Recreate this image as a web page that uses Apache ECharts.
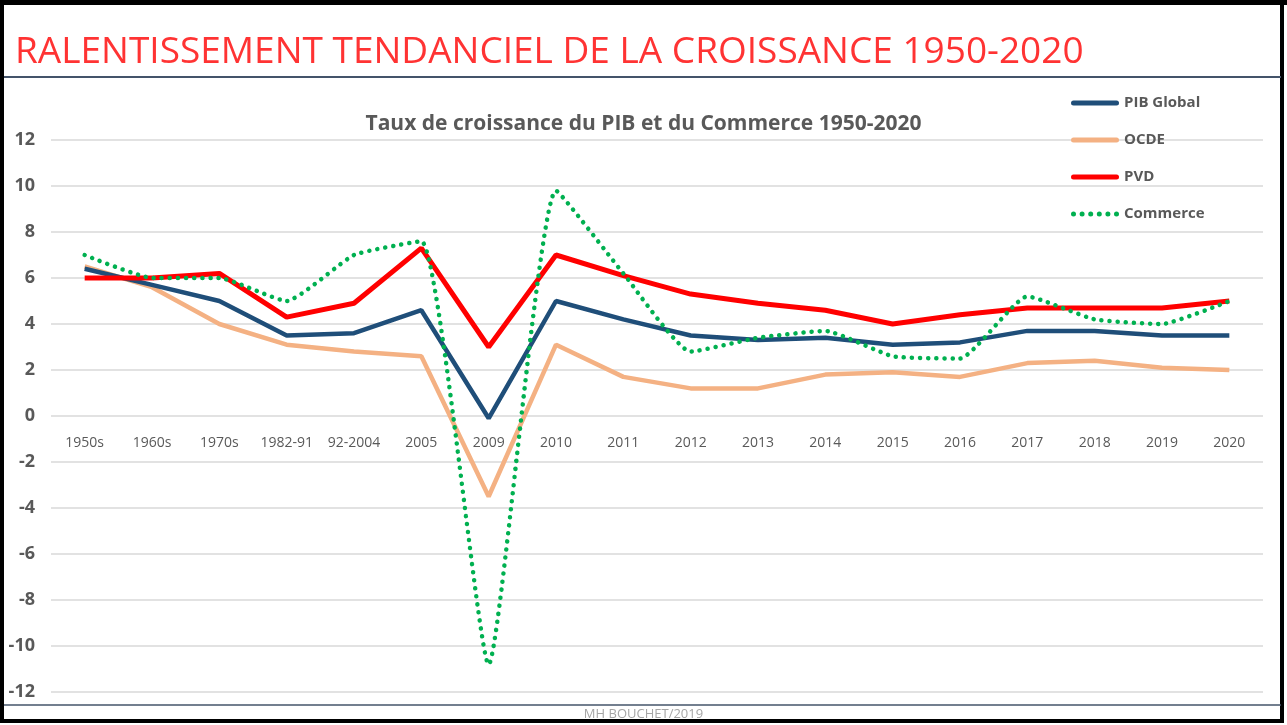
<!DOCTYPE html>
<html>
<head>
<meta charset="utf-8">
<script src="https://cdn.jsdelivr.net/npm/echarts@6/dist/echarts.min.js"></script>
<style>
  html, body { margin: 0; padding: 0; background: #fff; }
  #main { width: 1287px; height: 725px; }
</style>
</head>
<body>
<div id="main"></div>
<script>
var categories = ['1950s', '1960s', '1970s', '1982-91', '92-2004', '2005', '2009', '2010', '2011',
  '2012', '2013', '2014', '2015', '2016', '2017', '2018', '2019', '2020'];
var pibGlobal = [6.4, 5.7, 5.0, 3.5, 3.6, 4.6, -0.1, 5.0, 4.2, 3.5, 3.3, 3.4, 3.1, 3.2, 3.7, 3.7, 3.5, 3.5];
var ocde      = [6.5, 5.6, 4.0, 3.1, 2.8, 2.6, -3.5, 3.1, 1.7, 1.2, 1.2, 1.8, 1.9, 1.7, 2.3, 2.4, 2.1, 2.0];
var pvd       = [6.0, 6.0, 6.2, 4.3, 4.9, 7.3, 3.0, 7.0, 6.1, 5.3, 4.9, 4.6, 4.0, 4.4, 4.7, 4.7, 4.7, 5.0];
var commerce  = [7.0, 6.0, 6.0, 5.0, 7.0, 7.6, -10.8, 9.8, 6.2, 2.8, 3.4, 3.7, 2.6, 2.5, 5.2, 4.2, 4.0, 5.0];

var font = "'Open Sans', sans-serif";
// legend icons: solid bar, and a row of dots for the dotted series
var barIcon = 'path://M2.5,0 H45.5 A2.5,2.5 0 0 1 45.5,5 H2.5 A2.5,2.5 0 0 1 2.5,0 Z';
var dotIcon = 'path://M0,2.5 A2.5,2.5 0 1 1 5,2.5 A2.5,2.5 0 1 1 0,2.5 Z ' +
  'M8.6,2.5 A2.5,2.5 0 1 1 13.6,2.5 A2.5,2.5 0 1 1 8.6,2.5 Z ' +
  'M17.2,2.5 A2.5,2.5 0 1 1 22.2,2.5 A2.5,2.5 0 1 1 17.2,2.5 Z ' +
  'M25.8,2.5 A2.5,2.5 0 1 1 30.8,2.5 A2.5,2.5 0 1 1 25.8,2.5 Z ' +
  'M34.4,2.5 A2.5,2.5 0 1 1 39.4,2.5 A2.5,2.5 0 1 1 34.4,2.5 Z ' +
  'M43,2.5 A2.5,2.5 0 1 1 48,2.5 A2.5,2.5 0 1 1 43,2.5 Z';

var chart = echarts.init(document.getElementById('main'));

var option = {
  backgroundColor: '#fff',
  animation: false,
  title: [{
    text: 'RALENTISSEMENT TENDANCIEL DE LA CROISSANCE 1950-2020',
    left: 10,
    top: 29,
    textStyle: { color: '#FF3333', fontSize: 37, fontWeight: 'normal', fontFamily: font }
  }, {
    text: 'Taux de croissance du PIB et du Commerce 1950-2020',
    left: 'center',
    top: 109,
    textStyle: { color: '#595959', fontSize: 21, fontWeight: 'bold', fontFamily: font }
  }, {
    text: 'MH BOUCHET/2019',
    left: 'center',
    top: 703,
    textStyle: { color: '#A6A6A6', fontSize: 13, fontWeight: 'normal', fontFamily: font }
  }],
  legend: {
    orient: 'vertical',
    left: 1066,
    top: 88,
    itemWidth: 48,
    itemHeight: 5,
    itemGap: 17,
    textStyle: { color: '#595959', fontSize: 15, fontWeight: 'bold', fontFamily: font, lineHeight: 20 },
    data: [
      { name: 'PIB Global', icon: barIcon },
      { name: 'OCDE', icon: barIcon },
      { name: 'PVD', icon: barIcon },
      { name: 'Commerce', icon: dotIcon }
    ]
  },
  grid: { left: 51, right: 24, top: 140, bottom: 33 },
  xAxis: {
    type: 'category',
    data: categories,
    position: 'bottom',
    offset: -276, // category axis sits on the zero line
    axisLine: { show: false, onZero: false },
    axisTick: { show: false },
    axisLabel: { color: '#595959', fontSize: 14, margin: 20, fontFamily: font, interval: 0 }
  },
  yAxis: {
    type: 'value',
    min: -12,
    max: 12,
    interval: 2,
    axisLine: { show: false },
    axisTick: { show: false },
    splitLine: { lineStyle: { color: '#D9D9D9', width: 1.5 } },
    axisLabel: { color: '#595959', fontSize: 18, fontWeight: 'bold', margin: 16, fontFamily: font }
  },
  series: [{
    name: 'PIB Global',
    type: 'line',
    data: pibGlobal,
    symbol: 'none',
    z: 3,
    lineStyle: { color: '#1F4E79', width: 4.5 },
    itemStyle: { color: '#1F4E79' }
  }, {
    name: 'OCDE',
    type: 'line',
    data: ocde,
    symbol: 'none',
    z: 2,
    lineStyle: { color: '#F4B183', width: 4.5 },
    itemStyle: { color: '#F4B183' }
  }, {
    name: 'PVD',
    type: 'line',
    data: pvd,
    symbol: 'none',
    z: 4,
    lineStyle: { color: '#FF0000', width: 5 },
    itemStyle: { color: '#FF0000' }
  }, {
    name: 'Commerce',
    type: 'line',
    data: commerce,
    symbol: 'none',
    smooth: 0.15,
    z: 5,
    lineStyle: { color: '#00B050', width: 4.5, type: [0.1, 8], cap: 'round' },
    itemStyle: { color: '#00B050' }
  }],
  graphic: [
    { type: 'rect', shape: { x: 2, y: 2, width: 1280, height: 719 }, style: { fill: null, stroke: '#000', lineWidth: 4 }, z: 100 },
    { type: 'rect', shape: { x: 0, y: 0, width: 1287, height: 5 }, style: { fill: '#000' }, z: 100 },
    { type: 'line', shape: { x1: 4, y1: 77, x2: 1281, y2: 77 }, style: { stroke: '#44546A', lineWidth: 2 }, z: 100 },
    { type: 'line', shape: { x1: 4, y1: 705, x2: 1281, y2: 705 }, style: { stroke: '#44546A', lineWidth: 1.5 }, z: 100 }
  ]
};

chart.setOption(option);
</script>
</body>
</html>
